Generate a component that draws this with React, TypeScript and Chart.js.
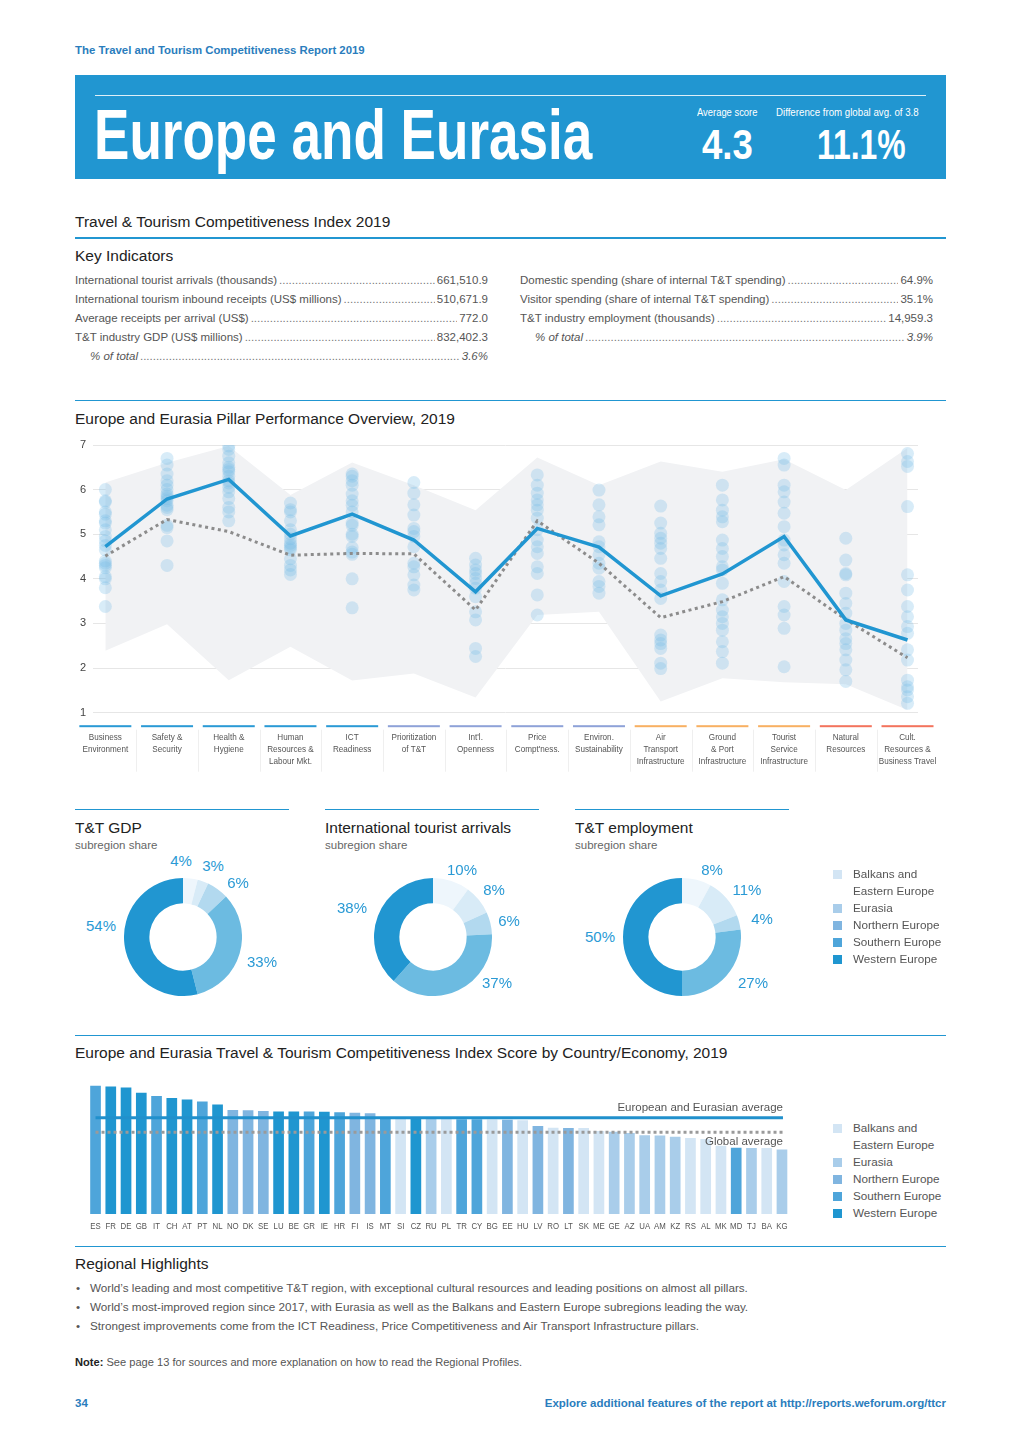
import React, { useEffect, useRef } from "react";
import { Chart, registerables } from "chart.js";

Chart.register(...registerables);

const FONT = "'Liberation Sans', Arial, Helvetica, sans-serif";
const BLUE = "#2196d1";

// ---------- Pillar overview data ----------
const PILLARS: string[][] = [
  ["Business", "Environment"],
  ["Safety &", "Security"],
  ["Health &", "Hygiene"],
  ["Human", "Resources &", "Labour Mkt."],
  ["ICT", "Readiness"],
  ["Prioritization", "of T&T"],
  ["Int'l.", "Openness"],
  ["Price", "Compt'ness."],
  ["Environ.", "Sustainability"],
  ["Air", "Transport", "Infrastructure"],
  ["Ground", "& Port", "Infrastructure"],
  ["Tourist", "Service", "Infrastructure"],
  ["Natural", "Resources"],
  ["Cult.", "Resources &", "Business Travel"],
];
const PILLAR_GROUP_COLORS = [
  "#2a9ad5", "#2a9ad5", "#2a9ad5", "#2a9ad5", "#2a9ad5",
  "#8ea2d8", "#8ea2d8", "#8ea2d8", "#8ea2d8",
  "#f8b062", "#f8b062", "#f8b062",
  "#f3735d", "#f3735d",
];
const REGION_SCORES = [4.72, 5.79, 6.23, 4.96, 5.45, 4.87, 3.71, 5.13, 4.71, 3.62, 4.11, 4.95, 3.08, 2.63];
const GLOBAL_SCORES = [4.51, 5.33, 5.06, 4.53, 4.57, 4.56, 3.3, 5.3, 4.35, 3.13, 3.49, 4.05, 3.09, 2.23];
const RANGE_MAX = [6.16, 6.6, 6.98, 5.88, 6.61, 6.1, 5.54, 6.72, 6.1, 6.63, 6.4, 6.68, 5.99, 6.93];
const RANGE_MIN = [2.39, 2.98, 1.73, 2.48, 1.72, 1.88, 1.34, 3.19, 3.26, 1.25, 1.77, 1.68, 1.64, 1.06];
const DOTS_BUSINESS = [6.0, 5.75, 5.72, 5.5, 5.45, 5.3, 5.25, 5.1, 4.95, 4.85, 4.75, 4.65, 4.4, 4.35, 4.3, 4.25, 4.05, 4.0, 3.8, 3.38];
const DOTS_SAFETY = [6.7, 6.55, 6.35, 6.2, 6.1, 6.0, 5.9, 5.85, 5.8, 5.75, 5.65, 5.6, 5.55, 5.2, 5.15, 4.85, 4.3];
const DOTS_HEALTH = [6.98, 6.9, 6.75, 6.6, 6.5, 6.45, 6.4, 6.3, 6.2, 6.15, 6.05, 5.95, 5.8, 5.6, 5.5, 5.3];
const DOTS_HUMAN = [5.7, 5.55, 5.5, 5.3, 5.1, 5.0, 4.9, 4.8, 4.75, 4.7, 4.65, 4.45, 4.3, 4.2, 4.1];
const DOTS_ICT = [6.35, 6.3, 6.2, 6.1, 5.9, 5.75, 5.65, 5.5, 5.25, 5.2, 5.0, 4.95, 4.7, 4.6, 4.55, 4.0, 3.35];
const DOTS_PRIOR = [6.16, 5.92, 5.66, 5.43, 5.13, 5.06, 4.95, 4.72, 4.35, 4.27, 4.09, 3.86, 3.75];
const DOTS_OPEN = [4.46, 4.31, 4.2, 4.12, 4.01, 3.9, 3.79, 3.6, 3.26, 3.08, 2.44, 2.26];
const DOTS_PRICE = [6.33, 6.1, 5.92, 5.77, 5.66, 5.54, 5.36, 5.1, 4.87, 4.72, 4.57, 4.27, 4.12, 3.64, 3.19];
const DOTS_ENVIRON = [5.99, 5.66, 5.39, 5.21, 4.83, 4.72, 4.54, 4.35, 4.24, 3.94, 3.83, 3.68];
const DOTS_AIR = [5.63, 5.25, 5.02, 4.91, 4.8, 4.68, 4.46, 4.12, 3.94, 3.75, 3.56, 2.74, 2.63, 2.55, 2.44, 2.11, 1.99];
const DOTS_GROUND = [6.1, 5.77, 5.54, 5.39, 5.28, 4.87, 4.68, 4.5, 4.27, 4.2, 3.9, 3.53, 3.3, 3.15, 3.0, 2.85, 2.59, 2.37, 2.11];
const DOTS_TOURIST = [6.7, 6.55, 6.1, 5.95, 5.72, 5.47, 5.17, 4.87, 4.76, 4.54, 4.35, 3.94, 3.38, 3.19, 2.89, 2.03];
const DOTS_NATURAL = [4.91, 4.42, 4.12, 4.09, 3.68, 3.45, 3.23, 3.0, 2.85, 2.66, 2.55, 2.41, 2.18, 1.96, 1.7];
const DOTS_CULT = [6.81, 6.63, 6.52, 5.62, 4.09, 3.75, 3.38, 3.15, 2.93, 2.78, 2.41, 2.18, 1.73, 1.58, 1.51, 1.36, 1.21];
const COUNTRY_DOTS = [
  DOTS_BUSINESS, DOTS_SAFETY, DOTS_HEALTH, DOTS_HUMAN, DOTS_ICT, DOTS_PRIOR, DOTS_OPEN,
  DOTS_PRICE, DOTS_ENVIRON, DOTS_AIR, DOTS_GROUND, DOTS_TOURIST, DOTS_NATURAL, DOTS_CULT,
];
const Y_TICKS_MIN = 1;
const Y_TICKS_MAX = 7;

// ---------- Subregion shares ----------
const SUBREGIONS = ["Balkans and Eastern Europe", "Eurasia", "Northern Europe", "Southern Europe", "Western Europe"];
const LEGEND_LINES = [["Balkans and", "Eastern Europe"], ["Eurasia"], ["Northern Europe"], ["Southern Europe"], ["Western Europe"]];
const SUBREGION_COLORS = ["#d3e5f4", "#a9cdea", "#80b5e0", "#4ea5da", "#1f96d0"];
const DONUT_SHADES = ["#eef6fc", "#d8ebf7", "#b2d9ef", "#6cbbe1", "#2196d1"];
const GDP_SHARE = [4, 3, 6, 33, 54];
const ARRIVALS_SHARE = [10, 8, 6, 37, 38];
const EMPLOYMENT_SHARE = [8, 11, 4, 27, 50];

// ---------- Country scores ----------
const COUNTRIES = ["ES", "FR", "DE", "GB", "IT", "CH", "AT", "PT", "NL", "NO", "DK", "SE", "LU", "BE", "GR", "IE", "HR", "FI", "IS", "MT", "SI", "CZ", "RU", "PL", "TR", "CY", "BG", "EE", "HU", "LV", "RO", "LT", "SK", "ME", "GE", "AZ", "UA", "AM", "KZ", "RS", "AL", "MK", "MD", "TJ", "BA", "KG"];
const COUNTRY_SCORES = [5.4, 5.37, 5.34, 5.16, 5.05, 4.98, 4.93, 4.86, 4.76, 4.57, 4.56, 4.53, 4.52, 4.52, 4.52, 4.51, 4.49, 4.47, 4.46, 4.33, 4.3, 4.29, 4.27, 4.26, 4.25, 4.25, 4.24, 4.23, 4.22, 4.02, 3.96, 3.95, 3.95, 3.85, 3.82, 3.78, 3.7, 3.69, 3.65, 3.61, 3.57, 3.34, 3.27, 3.26, 3.26, 3.21];
// index into SUBREGIONS
const COUNTRY_SUBREGION = [3, 4, 4, 4, 3, 4, 4, 3, 4, 2, 2, 2, 4, 4, 3, 4, 3, 2, 2, 3, 0, 4, 1, 0, 3, 3, 0, 2, 0, 2, 0, 2, 0, 0, 1, 1, 1, 1, 1, 0, 0, 0, 3, 1, 0, 1];
const REGION_AVG = 4.3;
const GLOBAL_AVG = 3.8;

// ---------- Text content ----------
const KEY_LEFT: [string, string, boolean][] = [
  ["International tourist arrivals (thousands)", "661,510.9", false],
  ["International tourism inbound receipts (US$ millions)", "510,671.9", false],
  ["Average receipts per arrival (US$)", "772.0", false],
  ["T&T industry GDP (US$ millions)", "832,402.3", false],
  ["% of total", "3.6%", true],
];
const KEY_RIGHT: [string, string, boolean][] = [
  ["Domestic spending (share of internal T&T spending)", "64.9%", false],
  ["Visitor spending (share of internal T&T spending)", "35.1%", false],
  ["T&T industry employment (thousands)", "14,959.3", false],
  ["% of total", "3.9%", true],
];
const HIGHLIGHTS = [
  "World’s leading and most competitive T&T region, with exceptional cultural resources and leading positions on almost all pillars.",
  "World’s most-improved region since 2017, with Eurasia as well as the Balkans and Eastern Europe subregions leading the way.",
  "Strongest improvements come from the ICT Readiness, Price Competitiveness and Air Transport Infrastructure pillars.",
];

// ---------- helpers ----------
function useChart(build: (cv: HTMLCanvasElement) => Chart) {
  const ref = useRef<HTMLCanvasElement>(null);
  useEffect(() => {
    if (!ref.current) return;
    const c = build(ref.current);
    return () => c.destroy();
  }, []);
  return ref;
}

function T(props: any) {
  const { x, y, size = 11, color = "#555", children, bold = false, italic = false, align = "left", sx = 1, style = {} } = props;
  const s: any = {
    position: "absolute",
    top: y - size * 0.6,
    fontSize: size,
    lineHeight: `${size * 1.2}px`,
    color,
    fontFamily: FONT,
    whiteSpace: "nowrap",
    fontWeight: bold ? 700 : 400,
    fontStyle: italic ? "italic" : "normal",
    ...style,
  };
  if (align === "right") {
    s.right = 1020 - x;
    if (sx !== 1) { s.transform = `scaleX(${sx})`; s.transformOrigin = "right center"; }
  } else if (align === "center") {
    s.left = x;
    s.transform = `translateX(-50%)`;
  } else {
    s.left = x;
    if (sx !== 1) { s.transform = `scaleX(${sx})`; s.transformOrigin = "left center"; }
  }
  return <div style={s}>{children}</div>;
}

function HLine({ x, y, w, h = 1.5, color = BLUE }: any) {
  return <div style={{ position: "absolute", left: x, top: y, width: w, height: h, background: color }} />;
}

function LeaderRow({ x, y, w, label, value, italic }: any) {
  return (
    <div
      style={{
        position: "absolute", left: x, top: y - 7.5, width: w, height: 15, display: "flex",
        fontSize: 11.5, lineHeight: "15px", color: "#555", fontFamily: FONT, fontStyle: italic ? "italic" : "normal",
      }}
    >
      <span style={{ paddingLeft: italic ? 15 : 0, whiteSpace: "nowrap" }}>{label}</span>
      <span style={{ flex: 1, minWidth: 0, overflow: "hidden", whiteSpace: "nowrap", margin: "0 2px", color: "#777", fontStyle: "normal" }}>
        {".".repeat(260)}
      </span>
      <span style={{ whiteSpace: "nowrap" }}>{value}</span>
    </div>
  );
}

function Legend({ x, y }: any) {
  const items: any[] = [];
  let yy = y;
  LEGEND_LINES.forEach((lines, i) => {
    items.push(
      <div key={"s" + i} style={{ position: "absolute", left: x, top: yy - 4.5, width: 9, height: 9, background: SUBREGION_COLORS[i] }} />
    );
    lines.forEach((ln, j) => {
      items.push(
        <T key={"t" + i + "_" + j} x={x + 20} y={yy} size={11.7} color="#555">{ln}</T>
      );
      yy += 17.1;
    });
  });
  return <>{items}</>;
}

function narrowText(ctx: any, text: string, x: number, y: number, k: number) {
  ctx.save();
  ctx.translate(x, y);
  ctx.scale(k, 1);
  ctx.fillText(text, 0, 0);
  ctx.restore();
}

// ---------- Pillar chart ----------
const pillarLabelsPlugin = {
  id: "pillarLabels",
  afterDraw(chart: any) {
    const { ctx, chartArea } = chart;
    const xs = chart.scales.x;
    ctx.save();
    PILLARS.forEach((lines, i) => {
      const x = xs.getPixelForValue(i);
      ctx.fillStyle = PILLAR_GROUP_COLORS[i];
      ctx.fillRect(x - 26, chartArea.bottom + 12.5, 52, 2);
      if (i > 0) {
        const xm = (x + xs.getPixelForValue(i - 1)) / 2;
        ctx.fillStyle = "#efefef";
        ctx.fillRect(Math.round(xm), chartArea.bottom + 17, 1, 42);
      }
      ctx.fillStyle = "#555";
      ctx.font = `9.8px ${FONT}`;
      ctx.textAlign = "center";
      ctx.textBaseline = "middle";
      lines.forEach((t, j) => narrowText(ctx, t, x, chartArea.bottom + 24.5 + 12 * j, 0.83));
    });
    ctx.restore();
  },
};

function PillarChart() {
  const ref = useChart((cv) => {
    const xy = (arr: number[]) => arr.map((v, i) => ({ x: i, y: v }));
    const dots: { x: number; y: number }[] = [];
    COUNTRY_DOTS.forEach((arr, i) => arr.forEach((v) => dots.push({ x: i, y: v })));
    return new Chart(cv, {
      type: "line",
      data: {
        datasets: [
          { type: "line", label: "Europe and Eurasia", data: xy(REGION_SCORES), borderColor: BLUE, borderWidth: 3.5, pointRadius: 0, fill: false, tension: 0, order: 0 } as any,
          { type: "line", label: "Global average", data: xy(GLOBAL_SCORES), borderColor: "#8c8c8c", borderWidth: 3, borderDash: [3, 3.5], pointRadius: 0, fill: false, tension: 0, order: 1 } as any,
          { type: "scatter", label: "Countries", data: dots, backgroundColor: "rgba(115,188,230,0.28)", borderWidth: 0, pointRadius: 6.5, order: 2 } as any,
          { type: "line", label: "Range min", data: xy(RANGE_MIN), borderColor: "rgba(0,0,0,0)", borderWidth: 0, pointRadius: 0, fill: false, order: 4 } as any,
          { type: "line", label: "Range max", data: xy(RANGE_MAX), borderColor: "rgba(0,0,0,0)", borderWidth: 0, pointRadius: 0, fill: { target: 3 }, backgroundColor: "#f1f2f4", order: 3 } as any,
        ],
      },
      options: {
        responsive: false,
        animation: false,
        events: [],
        layout: { padding: { left: 0, right: 22, top: 15, bottom: 62.3 } },
        plugins: { legend: { display: false }, tooltip: { enabled: false } },
        scales: {
          x: { type: "linear", min: -0.2, max: 13.17, display: false },
          y: {
            min: Y_TICKS_MIN,
            max: Y_TICKS_MAX,
            ticks: { stepSize: 1, color: "#444", font: { size: 11, family: FONT }, padding: 7 },
            grid: { color: "#e6e6e6", lineWidth: 1, drawTicks: false },
            border: { display: false },
            afterFit: (s: any) => { s.width = 33; },
          } as any,
        },
      },
      plugins: [pillarLabelsPlugin],
    });
  });
  return <canvas ref={ref} width={880} height={345} style={{ position: "absolute", left: 60, top: 430, width: 880, height: 345 }} />;
}

// ---------- Donuts ----------
function Donut({ values, cx, cy, r, labelPos }: any) {
  const size = r * 2;
  const ref = useChart((cv) =>
    new Chart(cv, {
      type: "doughnut",
      data: { labels: SUBREGIONS, datasets: [{ data: values, backgroundColor: DONUT_SHADES, borderWidth: 0, hoverOffset: 0 } as any] },
      options: {
        responsive: false,
        animation: false,
        events: [],
        cutout: "57%",
        layout: { padding: 0 },
        plugins: { legend: { display: false }, tooltip: { enabled: false } },
      },
    })
  );
  return (
    <>
      <canvas ref={ref} width={size} height={size} style={{ position: "absolute", left: cx - r, top: cy - r, width: size, height: size }} />
      {values.map((v: number, i: number) => (
        <T key={i} x={labelPos[i][0]} y={labelPos[i][1]} size={15} color="#2a9ad5" align="center">{`${v}%`}</T>
      ))}
    </>
  );
}

// ---------- Bar chart ----------
const barExtrasPlugin = {
  id: "barExtras",
  afterDatasetsDraw(chart: any) {
    const { ctx, chartArea } = chart;
    const xs = chart.scales.x;
    const ys = chart.scales.y;
    const x0 = xs.getPixelForValue(0);
    const x1 = xs.getPixelForValue(COUNTRIES.length - 1) + 1;
    ctx.save();
    const yg = ys.getPixelForValue(GLOBAL_AVG);
    ctx.strokeStyle = "#9a9a9a";
    ctx.lineWidth = 3;
    ctx.setLineDash([3, 3]);
    ctx.beginPath();
    ctx.moveTo(x0, yg);
    ctx.lineTo(x1, yg);
    ctx.stroke();
    const yr = ys.getPixelForValue(REGION_AVG);
    ctx.setLineDash([]);
    ctx.strokeStyle = "#2190cc";
    ctx.beginPath();
    ctx.moveTo(x0, yr);
    ctx.lineTo(x1, yr);
    ctx.stroke();
    ctx.fillStyle = "#555";
    ctx.font = `11.5px ${FONT}`;
    ctx.textAlign = "right";
    ctx.textBaseline = "middle";
    ctx.fillText("European and Eurasian average", x1, yr - 9.5);
    ctx.fillText("Global average", x1, yg + 9);
    ctx.font = `9.8px ${FONT}`;
    ctx.textAlign = "center";
    COUNTRIES.forEach((c, i) => narrowText(ctx, c, xs.getPixelForValue(i), chartArea.bottom + 12, 0.8));
    ctx.restore();
  },
};

function CountryChart() {
  const ref = useChart((cv) =>
    new Chart(cv, {
      type: "bar",
      data: {
        labels: COUNTRIES,
        datasets: [
          {
            label: "Score",
            data: COUNTRY_SCORES,
            backgroundColor: COUNTRY_SUBREGION.map((i) => SUBREGION_COLORS[i]),
            borderWidth: 0,
            barPercentage: 0.7,
            categoryPercentage: 1,
          },
        ],
      },
      options: {
        responsive: false,
        animation: false,
        events: [],
        layout: { padding: { left: 7.9, right: 10.4, top: 9.9, bottom: 26 } },
        plugins: { legend: { display: false }, tooltip: { enabled: false } },
        scales: {
          x: { display: false },
          y: { display: false, min: 1, max: 5.6 },
        },
      },
      plugins: [barExtrasPlugin],
    })
  );
  return <canvas ref={ref} width={720} height={170} style={{ position: "absolute", left: 80, top: 1070, width: 720, height: 170 }} />;
}

export default function App() {
  return (
    <div style={{ position: "absolute", left: 0, top: 0, width: 1020, height: 1442, background: "#fff", fontFamily: FONT, overflow: "hidden" }}>
      <T x={75} y={51} size={11.4} bold color="#2a7dbd">The Travel and Tourism Competitiveness Report 2019</T>

      {/* Banner */}
      <div style={{ position: "absolute", left: 75, top: 75, width: 871, height: 104, background: BLUE }} />
      <div style={{ position: "absolute", left: 95, top: 94.5, width: 831, height: 1.5, background: "rgba(255,255,255,0.85)" }} />
      <T x={94} y={135} size={70} color="#fff" bold sx={0.758}>Europe and Eurasia</T>
      <T x={697} y={113} size={10} color="#fff" sx={0.94}>Average score</T>
      <T x={776} y={113} size={10} color="#fff" sx={0.97}>Difference from global avg. of 3.8</T>
      <T x={702} y={145.4} size={42} color="#fff" bold sx={0.87}>4.3</T>
      <T x={817} y={145.4} size={42} color="#fff" bold sx={0.76}>11.1%</T>

      {/* Key indicators */}
      <T x={75} y={222} size={15.5} color="#222">Travel &amp; Tourism Competitiveness Index 2019</T>
      <HLine x={75} y={237} w={871} />
      <T x={75} y={256} size={15.5} color="#222">Key Indicators</T>
      {KEY_LEFT.map((r, i) => (
        <LeaderRow key={"l" + i} x={75} y={280 + 19 * i} w={413} label={r[0]} value={r[1]} italic={r[2]} />
      ))}
      {KEY_RIGHT.map((r, i) => (
        <LeaderRow key={"r" + i} x={520} y={280 + 19 * i} w={413} label={r[0]} value={r[1]} italic={r[2]} />
      ))}

      {/* Pillar chart */}
      <HLine x={75} y={399.5} w={871} />
      <T x={75} y={419} size={15.5} color="#222">Europe and Eurasia Pillar Performance Overview, 2019</T>
      <PillarChart />

      {/* Donuts */}
      <HLine x={75} y={808.5} w={214} />
      <HLine x={325} y={808.5} w={214} />
      <HLine x={575} y={808.5} w={214} />
      <T x={75} y={828} size={15.5} color="#222">T&amp;T GDP</T>
      <T x={75} y={846} size={11.5} color="#666">subregion share</T>
      <T x={325} y={828} size={15.5} color="#222">International tourist arrivals</T>
      <T x={325} y={846} size={11.5} color="#666">subregion share</T>
      <T x={575} y={828} size={15.5} color="#222">T&amp;T employment</T>
      <T x={575} y={846} size={11.5} color="#666">subregion share</T>
      <Donut values={GDP_SHARE} cx={182.5} cy={936.5} r={59} labelPos={[[181, 861], [213, 866], [238, 883], [262, 962], [101, 926]]} />
      <Donut values={ARRIVALS_SHARE} cx={432.5} cy={937} r={59} labelPos={[[462, 870], [494, 890], [509, 921], [497, 983], [352, 908]]} />
      <Donut values={EMPLOYMENT_SHARE} cx={682} cy={937} r={59} labelPos={[[712, 870], [747, 890], [762, 919], [753, 983], [600, 937]]} />
      <Legend x={833} y={874} />

      {/* Country chart */}
      <HLine x={75} y={1034.5} w={871} />
      <T x={75} y={1053} size={15.5} color="#222">Europe and Eurasia Travel &amp; Tourism Competitiveness Index Score by Country/Economy, 2019</T>
      <CountryChart />
      <Legend x={833} y={1128} />

      {/* Highlights */}
      <HLine x={75} y={1245.5} w={871} />
      <T x={75} y={1264} size={15.5} color="#222">Regional Highlights</T>
      {HIGHLIGHTS.map((h, i) => (
        <React.Fragment key={i}>
          <T x={76} y={1288 + 19 * i} size={11.7} color="#555">•</T>
          <T x={90} y={1288 + 19 * i} size={11.7} color="#555">{h}</T>
        </React.Fragment>
      ))}
      <T x={75} y={1363} size={11.1} color="#555">
        <b style={{ color: "#222" }}>Note:</b> See page 13 for sources and more explanation on how to read the Regional Profiles.
      </T>
      <T x={75} y={1404} size={11.5} bold color="#2a7dbd">34</T>
      <T x={946} y={1404} size={11.5} bold color="#2a7dbd" align="right">Explore additional features of the report at http://reports.weforum.org/ttcr</T>
    </div>
  );
}
